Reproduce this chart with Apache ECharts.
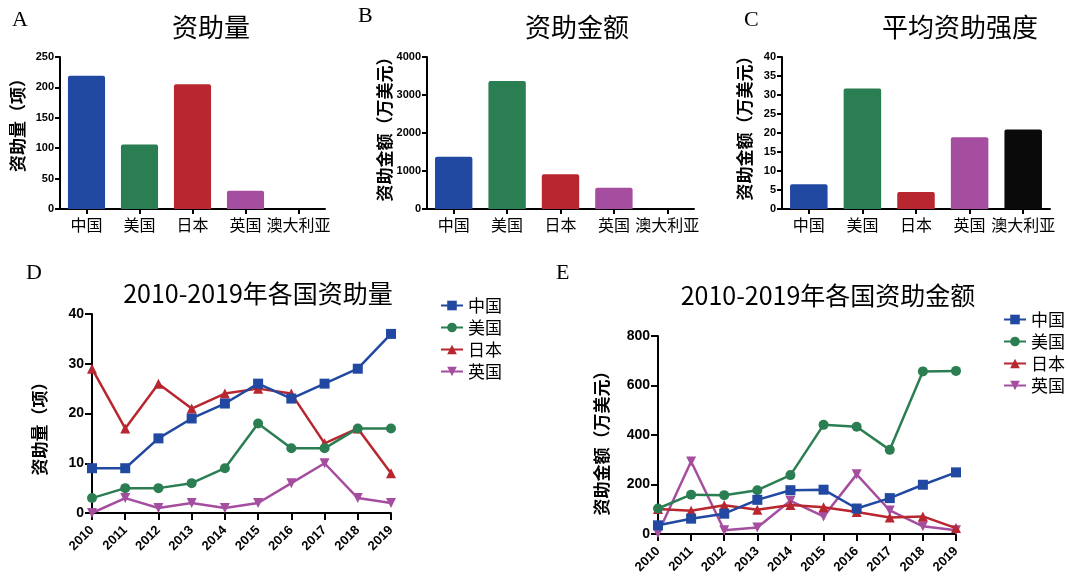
<!DOCTYPE html>
<html>
<head>
<meta charset="utf-8">
<script src="https://cdn.jsdelivr.net/npm/echarts@6/dist/echarts.min.js"></script>
<style>
  html, body { margin: 0; padding: 0; background: #fff; }
  #chart { width: 1068px; height: 579px; }
</style>
</head>
<body>
<div id="chart"></div>
<script>
// Country totals (panels A–C)
const countries = ['中国', '美国', '日本', '英国', '澳大利亚'];
const grantCount = [219, 106, 205, 30, 1];          // 项
const grantAmount = [1376, 3368, 913, 561, 21];     // 万美元
const grantIntensity = [6.5, 31.7, 4.5, 18.9, 20.9]; // 万美元/项

// Yearly series (panels D–E)
const years = ['2010', '2011', '2012', '2013', '2014', '2015', '2016', '2017', '2018', '2019'];
const seriesNames = ['中国', '美国', '日本', '英国'];

const countChina = [9, 9, 15, 19, 22, 26, 23, 26, 29, 36];
const countUSA = [3, 5, 5, 6, 9, 18, 13, 13, 17, 17];
const countJapan = [29, 17, 26, 21, 24, 25, 24, 14, 17, 8];
const countUK = [0, 3, 1, 2, 1, 2, 6, 10, 3, 2];

const amountChina = [35, 62, 82, 138, 177, 179, 103, 145, 199, 249];
const amountUSA = [103, 159, 157, 177, 238, 441, 433, 340, 657, 659];
const amountJapan = [101, 94, 116, 98, 117, 108, 89, 67, 71, 24];
const amountUK = [3, 293, 15, 26, 134, 71, 241, 95, 31, 15];

// Styling
const palette = ['#2149a1', '#2b7d52', '#b8272f', '#a54e9f', '#0a0a0a'];
const CJK = '"Noto Sans CJK SC", sans-serif';
const NUM = '"Liberation Sans", Arial, sans-serif';
const SERIF = '"Liberation Serif", "DejaVu Serif", serif';

const chart = echarts.init(document.getElementById('chart'), null, { renderer: 'canvas' });

const axisLine = { show: true, lineStyle: { color: '#000', width: 2 } };
const tick = len => ({ show: true, length: len, lineStyle: { color: '#000', width: 2 } });
const plain = v => String(v);

function barX(gridIndex) {
  return {
    type: 'category', gridIndex, data: countries,
    boundaryGap: true,
    axisLine, axisTick: Object.assign({ alignWithLabel: true }, tick(5)),
    axisLabel: { color: '#000', fontFamily: CJK, fontSize: 16, margin: 8, interval: 0 },
    splitLine: { show: false }
  };
}
// namePad shifts the rotated axis title along the axis (left pad = up, right pad = down)
function valueY(gridIndex, max, interval, name, gap, fs, tickLen, namePad) {
  return {
    type: 'value', gridIndex, min: 0, max, interval,
    name, nameLocation: 'middle', nameGap: gap, nameRotate: 90,
    nameTextStyle: { color: '#000', fontFamily: CJK, fontSize: 17, fontWeight: 'bold', padding: namePad },
    axisLine, axisTick: tick(tickLen),
    axisLabel: { color: '#000', fontFamily: NUM, fontSize: fs, fontWeight: 'bold', margin: tickLen + 1, formatter: plain },
    splitLine: { show: false }
  };
}
function yearX(gridIndex) {
  return {
    type: 'category', gridIndex, data: years,
    boundaryGap: false,
    axisLine, axisTick: tick(7),
    axisLabel: { color: '#000', fontFamily: NUM, fontSize: 13, fontWeight: 'bold', rotate: 45, margin: 15, interval: 0 },
    splitLine: { show: false }
  };
}
function barSeries(idx, values) {
  return {
    type: 'bar', xAxisIndex: idx, yAxisIndex: idx,
    data: values.map((v, i) => ({ value: v, itemStyle: { color: palette[i] } })),
    barWidth: '70%',
    itemStyle: { borderRadius: [2, 2, 0, 0] },
    silent: true
  };
}
const symbols = ['rect', 'circle', 'triangle', 'triangle'];
const rotations = [0, 0, 0, 180];
function lineSeries(idx, k, values) {
  return {
    type: 'line', name: seriesNames[k], xAxisIndex: idx, yAxisIndex: idx,
    data: values,
    symbol: symbols[k], symbolSize: 10, symbolRotate: rotations[k],
    showAllSymbol: true,
    z: k === 0 ? 6 : 3 + (3 - k),
    lineStyle: { width: 2.5, color: palette[k] },
    itemStyle: { color: palette[k] },
    silent: true, animation: false
  };
}

const titleStyle = { color: '#000', fontFamily: CJK, fontSize: 26, fontWeight: 'normal' };
const titleStyleWide = { color: '#000', fontFamily: CJK, fontSize: 25, fontWeight: 'normal' };
const legendBase = {
  orient: 'vertical', itemWidth: 22, itemHeight: 12, itemGap: 5,
  textStyle: { color: '#000', fontFamily: CJK, fontSize: 17, lineHeight: 17 },
  data: seriesNames,
  selectedMode: false
};

const letter = (t, x, y) => ({
  type: 'text', left: x, top: y,
  style: { text: t, font: '22px ' + SERIF, fill: '#000' }
});

chart.setOption({
  animation: false,
  backgroundColor: '#fff',
  title: [
    { text: '资助量', left: 206, top: 9, textAlign: 'center', textStyle: titleStyle },
    { text: '资助金额', left: 572, top: 9, textAlign: 'center', textStyle: titleStyle },
    { text: '平均资助强度', left: 955, top: 9, textAlign: 'center', textStyle: titleStyle },
    { text: '2010-2019年各国资助量', left: 253, top: 276, textAlign: 'center', textStyle: titleStyleWide },
    { text: '2010-2019年各国资助金额', left: 823, top: 278, textAlign: 'center', textStyle: titleStyleWide }
  ],
  graphic: [
    letter('A', 12, 9),
    letter('B', 358, 5),
    letter('C', 744, 9),
    letter('D', 26, 262),
    letter('E', 556, 262)
  ],
  legend: [
    Object.assign({ left: 435, top: 292 }, legendBase),
    Object.assign({ left: 998, top: 306 }, legendBase)
  ],
  grid: [
    { left: 60, top: 57, width: 265, height: 152 },
    { left: 427, top: 57, width: 267, height: 152 },
    { left: 782, top: 57, width: 268, height: 152 },
    { left: 92, top: 314, width: 299, height: 199 },
    { left: 658, top: 336, width: 298, height: 198 }
  ],
  xAxis: [barX(0), barX(1), barX(2), yearX(3), yearX(4)],
  yAxis: [
    valueY(0, 250, 50, '资助量（项）', 34, 11, 5, [0, 0, 0, 24]),
    valueY(1, 4000, 1000, '资助金额（万美元）', 34, 11, 5, [0, 0, 0, 16]),
    valueY(2, 40, 5, '资助金额（万美元）', 29, 11, 5, [0, 0, 0, 18]),
    valueY(3, 40, 10, '资助量（项）', 44, 14, 7, [0, 22, 0, 0]),
    valueY(4, 800, 200, '资助金额（万美元）', 48, 14, 7, [0, 8, 0, 0])
  ],
  series: [
    barSeries(0, grantCount),
    barSeries(1, grantAmount),
    barSeries(2, grantIntensity),
    lineSeries(3, 0, countChina),
    lineSeries(3, 1, countUSA),
    lineSeries(3, 2, countJapan),
    lineSeries(3, 3, countUK),
    lineSeries(4, 0, amountChina),
    lineSeries(4, 1, amountUSA),
    lineSeries(4, 2, amountJapan),
    lineSeries(4, 3, amountUK)
  ]
});
</script>
</body>
</html>
